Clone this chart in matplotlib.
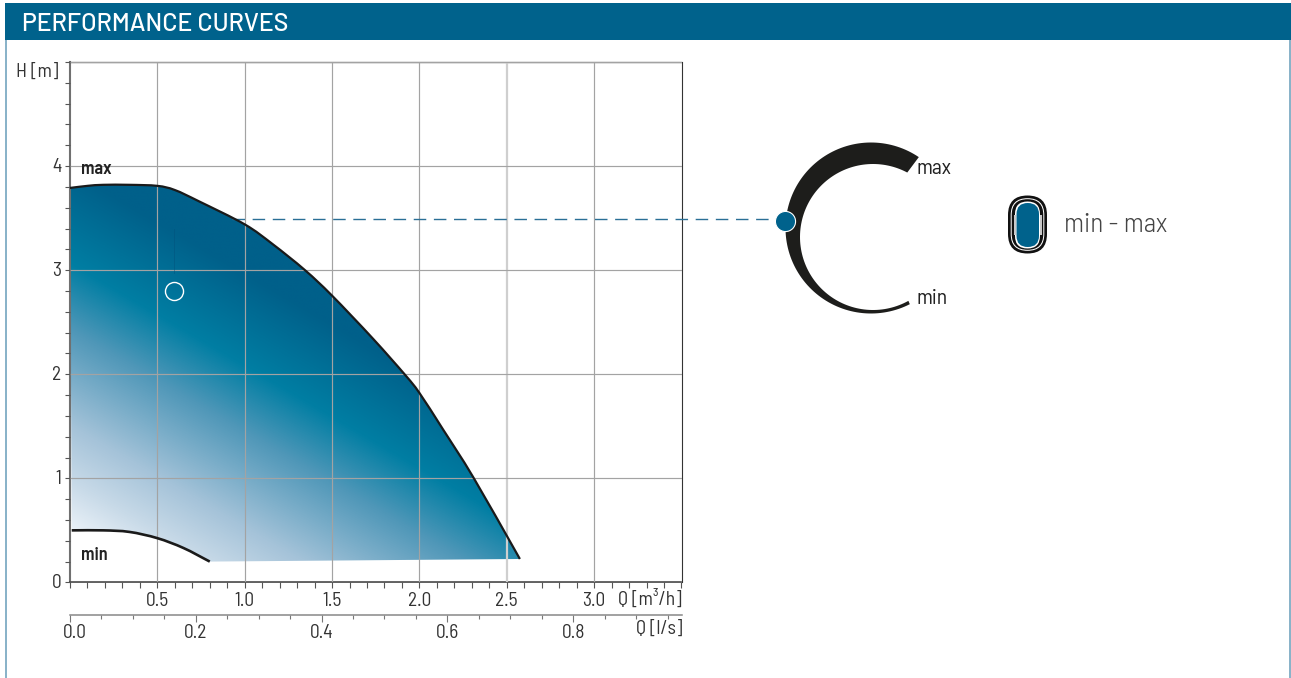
import numpy as np
import matplotlib
matplotlib.use("Agg")
import matplotlib.pyplot as plt
from matplotlib.colors import LinearSegmentedColormap
from matplotlib.patches import Polygon, FancyBboxPatch, Rectangle, PathPatch
from matplotlib.path import Path
from matplotlib.transforms import ScaledTranslation

plt.rcParams['font.family'] = ['Barlow Semi Condensed', 'Liberation Sans', 'DejaVu Sans']

# curves, Q in m3/h, H in m
max_q = [0.0, 0.10, 0.19, 0.34, 0.50, 0.60, 0.74, 1.00, 1.16, 1.345, 1.50, 1.735, 1.92, 2.00, 2.135, 2.31, 2.575]
max_h = [3.79, 3.81, 3.82, 3.82, 3.81, 3.77, 3.66, 3.44, 3.25, 3.00, 2.755, 2.34, 1.99, 1.82, 1.47, 1.005, 0.225]
min_q = [0.01, 0.19, 0.34, 0.50, 0.65, 0.80]
min_h = [0.50, 0.50, 0.485, 0.425, 0.33, 0.20]

m3h_ticks = [0.5, 1.0, 1.5, 2.0, 2.5, 3.0]
ls_ticks = [0.0, 0.2, 0.4, 0.6, 0.8]
h_ticks = [0, 1, 2, 3, 4]

op_q = 0.595
op_h = 2.80
dash_h = 3.49
dash_q = [0.93, 4.04]

BLUE = "#00628c"
W, H = 1291, 678


def smooth(q, h):
    # bezier through the read points
    p = np.c_[q, h]
    d = np.gradient(p, axis=0) / 3
    verts = [p[0]]
    for i in range(len(p) - 1):
        verts += [p[i] + d[i], p[i + 1] - d[i + 1], p[i + 1]]
    return np.array(verts), [Path.MOVETO] + [Path.CURVE4] * (len(verts) - 1)


fig = plt.figure(figsize=(W / 100, H / 100), dpi=100)

# overlay in pixel coordinates for the frame
bg = fig.add_axes([0, 0, 1, 1], zorder=0)
bg.set_xlim(0, W)
bg.set_ylim(H, 0)
bg.axis("off")
bg.add_patch(Rectangle((5, 40), 1.6, 640, color="#8ab3c9", lw=0))
bg.add_patch(Rectangle((1289.4, 40), 1.6, 640, color="#8ab3c9", lw=0))
bg.add_patch(Rectangle((5, 3), 1286, 37, color=BLUE, lw=0))
bg.text(22, 24.5, "PERFORMANCE CURVES", color="white", fontsize=18, va="center", ha="left", fontweight=500,
        family=["Barlow", "Barlow Semi Condensed", "Liberation Sans"])

left, right, top, bottom = 70, 681.5, 62, 582.4
ax = fig.add_axes([left / W, 1 - bottom / H, (right - left) / W, (bottom - top) / H], zorder=1)
ax.patch.set_alpha(0)
ax.set_xlim(0, 3.5)
ax.set_ylim(0, 5)

# diagonal gradient, clipped to the working area
qq, hh = np.meshgrid(np.linspace(0, 3.5, 700), np.linspace(0, 5, 700))
px = left + qq * (right - left) / 3.5
py = bottom - hh * (bottom - top) / 5
t = 0.585 * px - py
stops = [(-495, "#eef4fa"), (-442, "#c8dae8"), (-386, "#a5c3d9"), (-289, "#4f97b8"),
         (-223, "#007ea3"), (-130, "#00608a"), (60, "#00608a")]
tmin, tmax = stops[0][0], stops[-1][0]
cmap = LinearSegmentedColormap.from_list("area", [((v - tmin) / (tmax - tmin), c) for v, c in stops])
img = ax.imshow(t, origin="lower", extent=(0, 3.5, 0, 5), aspect="auto", cmap=cmap,
                vmin=tmin, vmax=tmax, zorder=1, interpolation="bilinear")

max_v, max_c = smooth(max_q, max_h)
min_v, min_c = smooth(min_q, min_h)
area_v = np.r_[max_v, min_v[::-1], max_v[:1]]
area_c = max_c + [Path.LINETO] + [Path.CURVE4] * (len(min_v) - 1) + [Path.LINETO]
clip = PathPatch(Path(area_v, area_c), transform=ax.transData, fc="none", ec="none")
ax.add_patch(clip)
img.set_clip_path(clip)

ax.add_patch(PathPatch(Path(max_v, max_c), fc="none", ec="#1a1a1a", lw=1.6, zorder=4, capstyle="butt"))
ax.add_patch(PathPatch(Path(min_v, min_c), fc="none", ec="#1a1a1a", lw=1.9, zorder=4, capstyle="butt"))
ax.plot(dash_q, [dash_h, dash_h], color="#2a6f96", lw=1.0, dashes=(9, 5.5), clip_on=False, zorder=3)
ax.plot([op_q, op_q], [op_h + 0.17, op_h + 0.6], color="#00507a", lw=0.6, alpha=0.5, zorder=3)
ax.plot([op_q], [op_h], "o", ms=13, mfc="none", mec="white", mew=1.0, zorder=5)

# axes
ax.set_axisbelow(False)
ax.set_xticks(m3h_ticks)
ax.set_xticks(np.arange(0, 36) / 10, minor=True)
ax.set_yticks(h_ticks + [5])
ax.set_yticklabels([str(v) for v in h_ticks] + [""])
ax.set_yticks(np.arange(0, 26) / 5, minor=True)
ax.grid(True, which="major", color="#a3a3a3", lw=0.85)
ax.xaxis.get_gridlines()[4].set(color="#cfcfcf", lw=1.6)
ax.tick_params(axis="x", which="both", direction="out", length=4, width=0.8, color="#555555",
               labelsize=14, labelcolor="#333333", pad=3)
ax.tick_params(axis="y", which="both", direction="out", length=3.6, width=0.8, color="#555555",
               labelsize=14, labelcolor="#333333", pad=2.5)
ax.spines["left"].set(color="#707070", lw=1.5)
ax.spines["bottom"].set(color="#444444", lw=1.2)
ax.spines["top"].set(color="#222222", lw=0.9)
ax.spines["right"].set(color="#333333", lw=0.8)
for lab in ax.get_yticklabels():
    lab.set_transform(lab.get_transform() + ScaledTranslation(0, 1 / 72, fig.dpi_scale_trans))

sec = ax.secondary_xaxis((bottom - 614.5) / (bottom - top), functions=(lambda q: q / 3.6, lambda l: l * 3.6))
sec.set_xticks(ls_ticks)
sec.set_xticks(np.arange(0, 20) / 20, minor=True)
sec.tick_params(axis="x", which="major", direction="out", length=5, width=0.8, color="#777777",
                labelsize=14, labelcolor="#333333", pad=1.5)
sec.tick_params(axis="x", which="minor", direction="out", length=3, width=0.8, color="#777777")
sec.spines["bottom"].set(color="#888888", lw=1.1)
zero = sec.get_xticklabels()[0]
zero.set_transform(zero.get_transform() + ScaledTranslation(5 / 100, 0, fig.dpi_scale_trans))

# text in pixel positions
fg = fig.add_axes([0, 0, 1, 1], zorder=2)
fg.set_xlim(0, W)
fg.set_ylim(H, 0)
fg.axis("off")
fg.patch.set_alpha(0)
tc = "#333333"
fg.text(59, 71.5, "H [m]", ha="right", va="center", fontsize=14, color=tc)
fg.text(682, 599.5, "Q [m³/h]", ha="right", va="center", fontsize=14, color=tc)
fg.text(682, 629, "Q [l/s]", ha="right", va="center", fontsize=14, color=tc)
fg.text(81, 170, "max", ha="left", va="center", fontsize=13, fontweight=600, color="#222222")
fg.text(81, 556, "min", ha="left", va="center", fontsize=13, fontweight=600, color="#222222")

# crescent
a_out = np.radians(np.linspace(-56, -297, 120))
a_in = np.radians(np.linspace(-62, -299, 120))[::-1]
xo, yo = 871 + 85.5 * np.cos(a_out), 228 + 85.5 * np.sin(a_out)
xi, yi = 873 + 73 * np.cos(a_in), 237 + 73 * np.sin(a_in)
fg.add_patch(Polygon(np.r_[np.c_[xo, yo], np.c_[xi, yi]], closed=True, fc="#1d1d1b", ec="none"))
fg.plot([785], [221], "o", ms=14.5, mfc=BLUE, mec="white", mew=0.8)
fg.text(917, 169, "max", ha="left", va="center", fontsize=15.5, color="#222222")
fg.text(917, 298, "min", ha="left", va="center", fontsize=15.5, color="#222222")


def pill(x0, y0, x1, y1, color):
    r = (x1 - x0) / 2
    fg.add_patch(FancyBboxPatch((x0 + r, y0 + r), 0, (y1 - y0) - 2 * r,
                                boxstyle=f"round,pad={r},rounding_size={r}",
                                fc=color, ec="none"))


# min-max symbol
pill(1008, 195.5, 1047, 253.5, "#111111")
pill(1010.7, 198.2, 1044.3, 250.8, "white")
pill(1011.7, 199.2, 1043.3, 249.8, "#111111")
pill(1015, 201.5, 1040, 248.5, "white")
fg.add_patch(Rectangle((1013.5, 215), 2.5, 20, fc="#c8c8c8", ec="none"))
fg.add_patch(Rectangle((1039.5, 215), 2.5, 20, fc="#c8c8c8", ec="none"))
pill(1016.5, 203, 1039, 247, BLUE)
fg.text(1064, 225, "min - max", ha="left", va="center", fontsize=19.6, color="#444444", fontweight=300)

fig.savefig("out.png", dpi=100)
